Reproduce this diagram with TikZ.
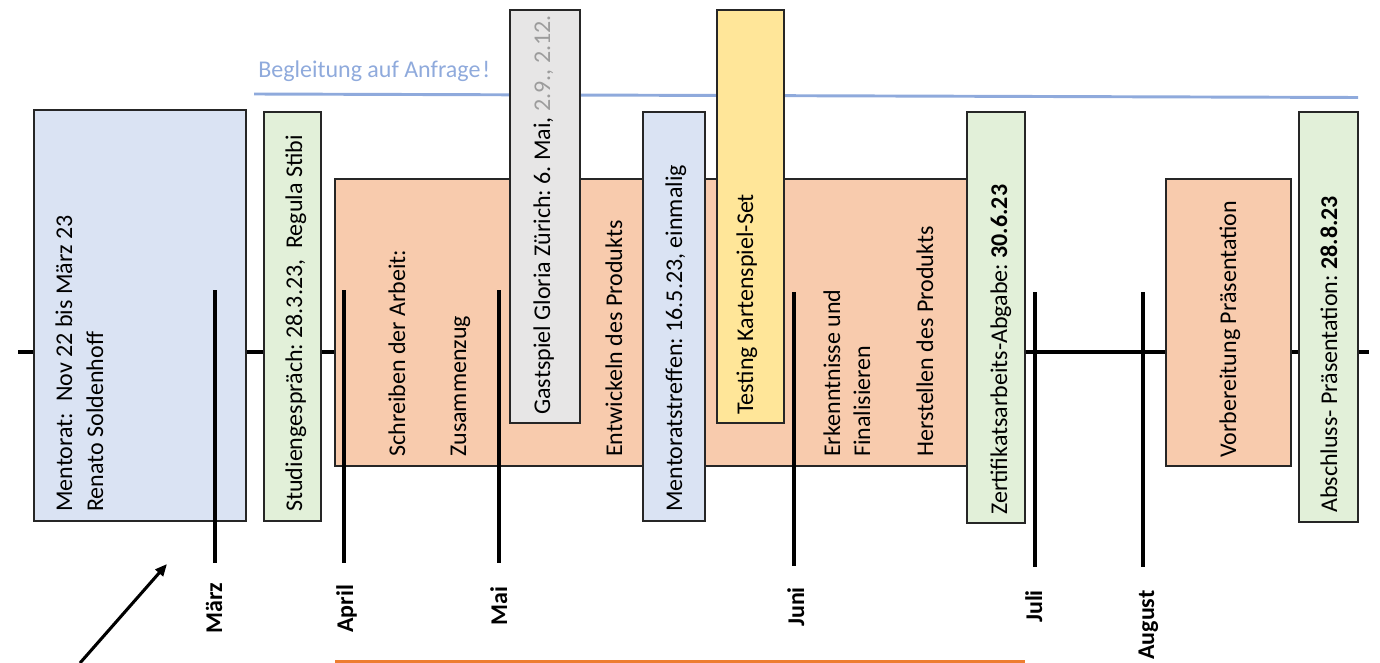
\documentclass[tikz,border=0pt]{standalone}
\usepackage{fontspec}
\setmainfont{Carlito}
\usetikzlibrary{arrows.meta}
\definecolor{boxblue}{HTML}{DAE3F3}
\definecolor{boxgreen}{HTML}{E2F0D9}
\definecolor{boxorange}{HTML}{F8CBAD}
\definecolor{boxgray}{HTML}{E7E6E6}
\definecolor{boxyellow}{HTML}{FFE699}
\definecolor{hintblue}{HTML}{8FAADC}
\definecolor{lineorange}{HTML}{ED7D31}
\definecolor{datagray}{HTML}{9C9C9C}
\frenchspacing
\begin{document}
\begin{tikzpicture}[x=0.75pt,y=-0.75pt,
  font=\fontsize{18}{22}\selectfont,
  phase/.style={draw=black!85,line width=1.2pt},
  vlabel/.style={rotate=90,anchor=base west,inner sep=0pt},
  month/.style={rotate=90,anchor=base west,inner sep=0pt,font=\fontsize{18}{22}\selectfont\bfseries},
  tickline/.style={line width=2.3pt},
  axisline/.style={line width=3pt}]
\useasboundingbox (0,0) rectangle (1380,663);

% main time axis
\coordinate (axisL) at (18,352);
\coordinate (axisR) at (1369,352);
\draw[axisline] (axisL) -- (axisR);

% optional accompaniment
\coordinate (hintL) at (254,94);
\coordinate (hintR) at (1358,97.5);
\draw[hintblue,line width=2.2pt] (hintL) -- (hintR);
\node[anchor=base west,inner sep=0pt,text=hintblue] (hint) at (258,78) {Begleitung auf Anfrage\kern1.5pt!};

% phases and events
\draw[phase,fill=boxblue]   (34,110) rectangle (246,521);
\draw[phase,fill=boxgreen]  (264,112) rectangle (321,521);
\draw[phase,fill=boxorange] (335,179) rectangle (968,466);
\draw[phase,fill=boxgray]   (510,10) rectangle (580,423);
\draw[phase,fill=boxblue]   (643,112) rectangle (705,521);
\draw[phase,fill=boxyellow] (717,10) rectangle (784,423);
\draw[phase,fill=boxgreen]  (967,112) rectangle (1025,523);
\draw[phase,fill=boxorange] (1166,179) rectangle (1291,466);
\draw[phase,fill=boxgreen]  (1299,112) rectangle (1358,522);

\node[vlabel] (ment1) at (72,512) {Mentorat:\ \ Nov 22 bis März 23};
\node[vlabel] (ment2) at (103,512) {Renato Soldenhoff};
\node[vlabel] (stud) at (302,512) {Studiengespräch: 28.3.23,\ \ Regula Stibi};
\node[vlabel] (schreib) at (405,457) {Schreiben der Arbeit:};
\node[vlabel] (zus) at (466,457) {Zusammenzug};
\node[vlabel] (gast) at (550,415) {Gastspiel Gloria Zürich: 6. Mai, \textcolor{datagray}{2.9., 2.12.}};
\node[vlabel] (entw) at (622,457) {Entwickeln des Produkts};
\node[vlabel] (mtreff) at (682,512) {Mentoratstreffen: 16.5.23, einmalig};
\node[vlabel] (test) at (753,415) {Testing Kartenspiel-Set};
\node[vlabel] (erk1) at (840,457) {Erkenntnisse und};
\node[vlabel] (erk2) at (870,457) {Finalisieren};
\node[vlabel] (herst) at (933,457) {Herstellen des Produkts};
\node[vlabel] (zert) at (1007,515) {Zertifikatsarbeits-Abgabe: \textbf{30.6.23}};
\node[vlabel] (vorb) at (1236,458) {Vorbereitung Präsentation};
\node[vlabel] (absch) at (1337,513) {Abschluss- Präsentation: \textbf{28.8.23}};

% month ticks
\coordinate (tMt) at (215,290);  \coordinate (tMb) at (215,563);
\coordinate (tAt) at (344,290);  \coordinate (tAb) at (344,563);
\coordinate (tMat) at (499,290); \coordinate (tMab) at (499,563);
\coordinate (tJt) at (794,292);  \coordinate (tJb) at (794,566);
\coordinate (tJlt) at (1035,292); \coordinate (tJlb) at (1035,567);
\coordinate (tAut) at (1143,292); \coordinate (tAub) at (1143,567);
\draw[tickline] (tMt) -- (tMb);
\draw[tickline] (tAt) -- (tAb);
\draw[tickline] (tMat) -- (tMab);
\draw[tickline] (tJt) -- (tJb);
\draw[tickline] (tJlt) -- (tJlb);
\draw[tickline] (tAut) -- (tAub);

\node[month] (maerz) at (222,634) {März};
\node[month] (april) at (353,633) {April};
\node[month] (mai) at (507,626) {Mai};
\node[month] (juni) at (804,627) {Juni};
\node[month] (juli) at (1042,623) {Juli};
\node[month] (august) at (1154,660) {August};

% pointer arrow and the writing period underline
\coordinate (arrS) at (80,663);
\coordinate (arrE) at (167,564);
\draw[line width=2.3pt,-{Triangle[length=9pt,width=7.5pt]}] (arrS) -- (arrE);
\coordinate (ulL) at (335,661.5);
\coordinate (ulR) at (1025,661.5);
\draw[lineorange,line width=1.6pt] (ulL) -- (ulR);
\end{tikzpicture}
\end{document}
